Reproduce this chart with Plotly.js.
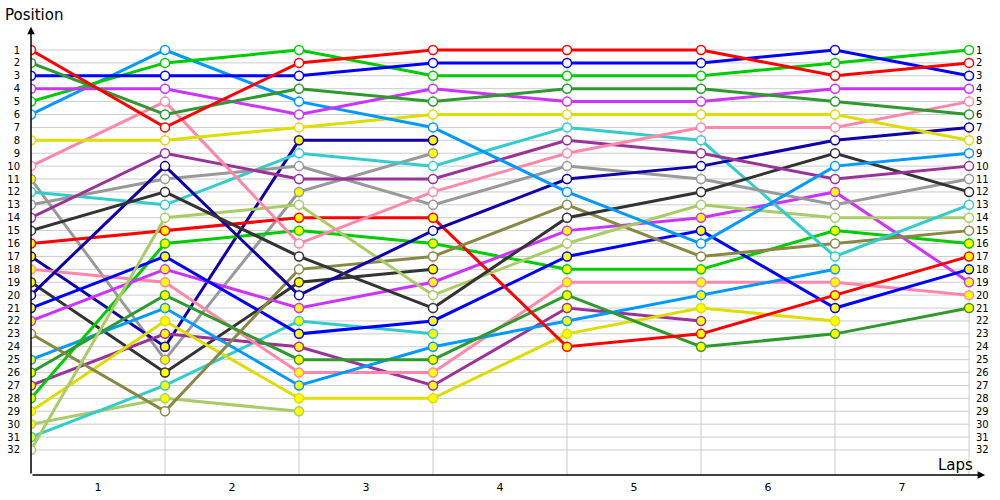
<!DOCTYPE html>
<html>
<head>
<meta charset="utf-8">
<script src="https://cdn.plot.ly/plotly-3.0.1.min.js"></script>
<style>html,body{margin:0;padding:0;background:#fff;}#chart{width:1000px;height:500px;}</style>
</head>
<body>
<div id="chart"></div>
<script>
// Lap indices (0 = grid / start)
const laps = [0, 1, 2, 3, 4, 5, 6, 7];
const lapLabels = ['1', '2', '3', '4', '5', '6', '7'];
const positions = Array.from({length: 32}, (_, i) => i + 1);

// Position of each driver at each lap (shorter arrays = retired)
const redA     = [1, 7, 2, 1, 1, 1, 3, 2];
const redB     = [16, 15, 14, 14, 24, 23, 20, 17];
const dgreenA  = [2, 6, 4, 5, 4, 4, 5, 6];
const dgreenB  = [26, 20, 25, 25, 20, 24, 23, 21];
const blueA    = [3, 3, 3, 2, 2, 2, 1, 3];
const blueB    = [21, 17, 23, 22, 17, 15, 21, 18];
const magentaA = [4, 4, 6, 4, 5, 5, 4, 4];
const magentaB = [22, 18, 21, 19, 15, 14, 12, 19];
const greenA   = [5, 2, 1, 3, 3, 3, 2, 1];
const greenB   = [28, 16, 15, 16, 18, 18, 15, 16];
const skyA     = [6, 1, 5, 7, 12, 16, 10, 9];
const skyB     = [25, 21, 27, 24, 22, 20, 18];
const yellowA  = [8, 8, 7, 6, 6, 6, 6, 8];
const yellowB  = [29, 22, 28, 28, 23, 21, 22];
const pinkA    = [10, 5, 16, 12, 9, 7, 7, 5];
const pinkB    = [18, 19, 26, 26, 19, 19, 19, 20];
const purpleA  = [14, 9, 11, 11, 8, 9, 11, 10];
const purpleB  = [27, 23, 24, 27, 21, 22];
const blackA   = [15, 12, 17, 21, 14, 12, 9, 12];
const blackB   = [19, 26, 19, 18];
const navyA    = [20, 10, 20, 15, 11, 10, 8, 7];
const navyB    = [17, 24, 8, 8];
const grayA    = [13, 11, 10, 13, 10, 11, 13, 11];
const grayB    = [11, 25, 12, 9];
const cyanA    = [12, 13, 9, 10, 7, 8, 17, 13];
const cyanB    = [31, 27, 22, 23];
const oliveA   = [23, 29, 18, 17, 13, 17, 16, 15];
const limeA    = [32, 14, 13, 20, 16, 13, 14, 14];
const limeB    = [30, 28, 29];

const drivers = [
  [limeB, '#aacc66', 'B'], [cyanB, '#33cccc', 'B'], [grayB, '#999999', 'B'], [navyB, '#1100aa', 'B'],
  [blackB, '#333333', 'B'], [purpleB, '#993399', 'B'], [pinkB, '#ff88aa', 'B'], [yellowB, '#dddd00', 'B'],
  [skyB, '#0099ff', 'B'], [greenB, '#00cc00', 'B'], [magentaB, '#cc33ff', 'B'], [blueB, '#0000ff', 'B'],
  [dgreenB, '#2e9a2e', 'B'], [redB, '#ff0000', 'B'],
  [oliveA, '#888844', 'A'], [limeA, '#aacc66', 'A'], [cyanA, '#33cccc', 'A'], [grayA, '#999999', 'A'],
  [navyA, '#1100aa', 'A'], [blackA, '#333333', 'A'], [purpleA, '#993399', 'A'], [pinkA, '#ff88aa', 'A'],
  [yellowA, '#dddd00', 'A'], [skyA, '#0099ff', 'A'], [greenA, '#00cc00', 'A'], [magentaA, '#cc33ff', 'A'],
  [blueA, '#0000ff', 'A'], [dgreenA, '#2e9a2e', 'A'], [redA, '#ff0000', 'A']
];

const traces = drivers.map(([vals, col, kind]) => ({
  x: laps.slice(0, vals.length),
  y: vals,
  type: 'scatter',
  mode: 'lines+markers',
  line: {color: col, width: 3},
  marker: {size: 9, color: kind === 'A' ? '#ffffff' : '#ffff00', line: {color: col, width: 1.5}},
  hoverinfo: 'skip',
  showlegend: false
}));

// Invisible trace on the right-hand axis so that axis is drawn
traces.push({x: [0], y: [1], yaxis: 'y2', mode: 'markers', marker: {opacity: 0}, hoverinfo: 'skip', showlegend: false});

const lastLap = laps[laps.length - 1];
const bottom = 33.94;
const shapes = [];
positions.forEach(p => shapes.push({type: 'line', layer: 'below', xref: 'x', yref: 'y', x0: 0, x1: lastLap, y0: p, y1: p, line: {color: '#cccccc', width: 1}}));
laps.slice(1).forEach(l => shapes.push({type: 'line', layer: 'below', xref: 'x', yref: 'y', x0: l, x1: l, y0: 1, y1: bottom, line: {color: '#cccccc', width: 1}}));

const yRange = [bottom, -2.10];
const layout = {
  width: 1000, height: 500,
  margin: {l: 31, r: 13, t: 10, b: 25},
  paper_bgcolor: '#ffffff', plot_bgcolor: '#ffffff',
  font: {family: 'DejaVu Sans, Verdana, sans-serif', size: 10, color: '#000'},
  xaxis: {range: [0, 7.134], showgrid: false, zeroline: false, showline: false,
          tickvals: lapLabels.map((_, i) => i + 0.5), ticktext: lapLabels, ticks: '',
          ticklabelstandoff: 4, tickfont: {size: 11}, fixedrange: true},
  yaxis: {range: yRange, showgrid: false, zeroline: false, showline: false,
          tickvals: positions, ticktext: positions.map(String), ticks: '', ticklabelstandoff: 10,
          tickfont: {size: 10}},
  yaxis2: {range: yRange, overlaying: 'y', side: 'right', anchor: 'free', position: 938 / 956,
           showgrid: false, zeroline: false, showline: false, ticklabelstandoff: 6,
           tickvals: positions, ticktext: positions.map(String), ticks: '', tickfont: {size: 10}},
  shapes: shapes,
  annotations: [
    {xref: 'x', yref: 'y', axref: 'x', ayref: 'y', x: 0, y: -0.8, ax: 0, ay: bottom, text: '', showarrow: true,
     arrowhead: 2, arrowsize: 1, arrowwidth: 1.5, arrowcolor: '#000'},
    {xref: 'x', yref: 'y', axref: 'x', ayref: 'y', x: 7.12, y: bottom, ax: 0, ay: bottom, text: '', showarrow: true,
     arrowhead: 2, arrowsize: 1, arrowwidth: 1.5, arrowcolor: '#000'},
    {xref: 'paper', yref: 'paper', x: -0.0293, y: 0.989, xanchor: 'left', yanchor: 'middle', text: 'Position',
     showarrow: false, font: {size: 15}},
    {xref: 'paper', yref: 'paper', x: 0.987, y: 0.022, xanchor: 'right', yanchor: 'middle', text: 'Laps',
     showarrow: false, font: {size: 15}}
  ]
};

Plotly.newPlot('chart', traces, layout, {staticPlot: true, displayModeBar: false});
</script>
</body>
</html>
